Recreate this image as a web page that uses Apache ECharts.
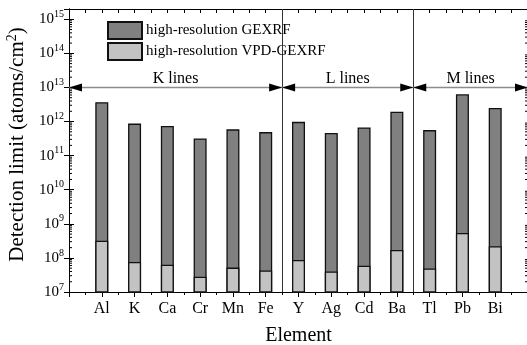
<!DOCTYPE html>
<html>
<head>
<meta charset="utf-8">
<script src="https://cdn.jsdelivr.net/npm/echarts@6/dist/echarts.min.js"></script>
<style>
  html, body { margin: 0; padding: 0; background: #fff; }
  #chart { width: 527px; height: 345px; }
</style>
</head>
<body>
<div id="chart"></div>
<script>
// detection limits
var elements = ['Al', 'K', 'Ca', 'Cr', 'Mn', 'Fe', 'Y', 'Ag', 'Cd', 'Ba', 'Tl', 'Pb', 'Bi'];
var gexrf = [3.7e12, 8.7e11, 7.4e11, 3.2e11, 5.9e11, 4.9e11, 9.8e11, 4.6e11, 6.7e11, 1.95e12, 5.6e11, 6.3e12, 2.5e12];
var vpdGexrf = [3.2e8, 7.6e7, 6.3e7, 2.8e7, 5.2e7, 4.3e7, 8.7e7, 4.0e7, 5.9e7, 1.7e8, 4.9e7, 5.4e8, 2.2e8];
var seriesNames = ['high-resolution GEXRF', 'high-resolution VPD-GEXRF'];

// line groups: [from, to, label], in category units
var lineGroups = [[0, 6.5, 'K lines'], [6.5, 10.5, 'L lines'], [10.5, 14, 'M lines']];
var groupLevel = 1e13;

var yMin = 1e7, yMax = 2e15;
var serif = 'Liberation Serif';

// log minor ticks 2..9 per decade
var minorTicks = [];
for (var e = 7; e <= 15; e++) {
  for (var m = 2; m <= 9; m++) {
    var t = m * Math.pow(10, e);
    if (t < yMax) minorTicks.push(t);
  }
}

function toPairs(arr) {
  return arr.map(function (v, i) { return [i + 1, v]; });
}

function txt(size, extra) {
  return Object.assign({ fontFamily: serif, fontSize: size, color: '#000' }, extra || {});
}

var chart = echarts.init(document.getElementById('chart'));

var catAxisBase = {
  type: 'value', min: 0, max: 14, interval: 1,
  axisLine: { lineStyle: { color: '#000', width: 1 } },
  splitLine: { show: false },
  minorTick: { show: true, splitNumber: 2, length: 3, lineStyle: { color: '#000' } }
};

var logAxisBase = {
  type: 'log', logBase: 10, min: yMin, max: yMax, interval: 1,
  axisLine: { show: true, lineStyle: { color: '#000', width: 1 } },
  splitLine: { show: false },
  axisTick: { show: true, inside: true, length: 5, lineStyle: { color: '#000' } }
};

chart.setOption({
  animation: false,
  backgroundColor: '#fff',
  textStyle: { fontFamily: serif },
  grid: { left: 69, right: -1, top: 9, bottom: 53, containLabel: false, outerBoundsMode: 'none' },
  legend: {
    orient: 'vertical', left: 107, top: 21, padding: 0,
    itemWidth: 34, itemHeight: 17, itemGap: 2,
    icon: 'rect',
    data: seriesNames,
    textStyle: { fontFamily: serif, fontSize: 15, color: '#000', padding: [0, 0, 0, -1] }
  },
  xAxis: [
    Object.assign({}, catAxisBase, {
      position: 'bottom',
      name: '{n|Element}', nameLocation: 'middle', nameGap: 34,
      nameTextStyle: txt(20, { rich: { n: txt(20) } }),
      axisTick: { show: true, inside: false, length: 5, lineStyle: { color: '#000' } },
      axisLabel: Object.assign(txt(16), {
        margin: 9,
        formatter: function (v) { return elements[v - 1] ? '{c|' + elements[v - 1] + '}' : ''; },
        rich: { c: txt(16) }
      })
    }),
    Object.assign({}, catAxisBase, {
      position: 'top',
      axisTick: { show: true, inside: true, length: 4, lineStyle: { color: '#000' } },
      minorTick: { show: true, splitNumber: 2, length: 4, lineStyle: { color: '#000' } },
      axisLabel: { show: false }
    })
  ],
  yAxis: [
    Object.assign({}, logAxisBase, {
      position: 'left',
      name: '{n|Detection limit (atoms/cm}{sup|2}{n|)}',
      nameLocation: 'middle', nameGap: 24, nameRotate: 90,
      nameTextStyle: txt(21, {
        padding: [0, 0, 0, 12],
        rich: {
          n: txt(21, { lineHeight: 25 }),
          sup: txt(14, { verticalAlign: 'top', lineHeight: 14 })
        }
      }),
      axisLabel: {
        margin: 5,
        formatter: function (v) {
          return '{b|10}{s|' + Math.round(Math.log10(v)) + '}';
        },
        rich: {
          b: txt(15, { lineHeight: 20 }),
          s: txt(10, { lineHeight: 11, verticalAlign: 'top' })
        }
      }
    }),
    Object.assign({}, logAxisBase, {
      position: 'right',
      axisLabel: { show: false }
    })
  ],
  series: [
    {
      name: seriesNames[0], type: 'bar', barWidth: 13, barGap: '-100%',
      itemStyle: { color: '#808080', borderColor: '#111', borderWidth: 1.3 },
      data: toPairs(gexrf)
    },
    {
      name: seriesNames[1], type: 'bar', barWidth: 13, barGap: '-100%',
      itemStyle: { color: '#c3c3c3', borderColor: '#111', borderWidth: 1.3 },
      data: toPairs(vpdGexrf)
    },
    {
      // minor log ticks on left and right axes
      type: 'custom', silent: true,
      data: minorTicks.map(function (t) { return [0, t]; }),
      renderItem: function (params, api) {
        var l = api.coord([0, api.value(1)]);
        var r = api.coord([14, api.value(1)]);
        var st = { stroke: '#000', lineWidth: 1 };
        return {
          type: 'group', children: [
            { type: 'line', shape: { x1: l[0], y1: l[1], x2: l[0] + 3, y2: l[1] }, style: st },
            { type: 'line', shape: { x1: r[0], y1: r[1], x2: r[0] - 3, y2: r[1] }, style: st }
          ]
        };
      }
    },
    {
      // K / L / M line groups with arrows and separators
      type: 'custom', silent: true,
      data: lineGroups,
      renderItem: function (params, api) {
        var g = lineGroups[params.dataIndex];
        var a = api.coord([g[0], groupLevel]);
        var b = api.coord([g[1], groupLevel]);
        var y = Math.round(a[1]) + 0.5;
        var al = 13, ah = 4;
        var children = [
          { type: 'line', shape: { x1: a[0], y1: y, x2: b[0], y2: y }, style: { stroke: '#8c8c8c', lineWidth: 1.5 } },
          { type: 'polygon', shape: { points: [[a[0], y], [a[0] + al, y - ah], [a[0] + al, y + ah]] }, style: { fill: '#000' } },
          { type: 'polygon', shape: { points: [[b[0], y], [b[0] - al, y - ah], [b[0] - al, y + ah]] }, style: { fill: '#000' } },
          {
            type: 'text',
            style: {
              text: g[2], x: (a[0] + b[0]) / 2, y: y - 1,
              align: 'center', verticalAlign: 'bottom',
              font: "16px 'Liberation Serif'", fill: '#000'
            }
          }
        ];
        if (g[1] < 14) {
          var top = api.coord([g[1], yMax]);
          var bot = api.coord([g[1], yMin]);
          var x = Math.round(top[0]) + 0.5;
          children.push({ type: 'line', shape: { x1: x, y1: top[1], x2: x, y2: bot[1] }, style: { stroke: '#333', lineWidth: 1 } });
        }
        return { type: 'group', children: children };
      }
    }
  ]
});
</script>
</body>
</html>
